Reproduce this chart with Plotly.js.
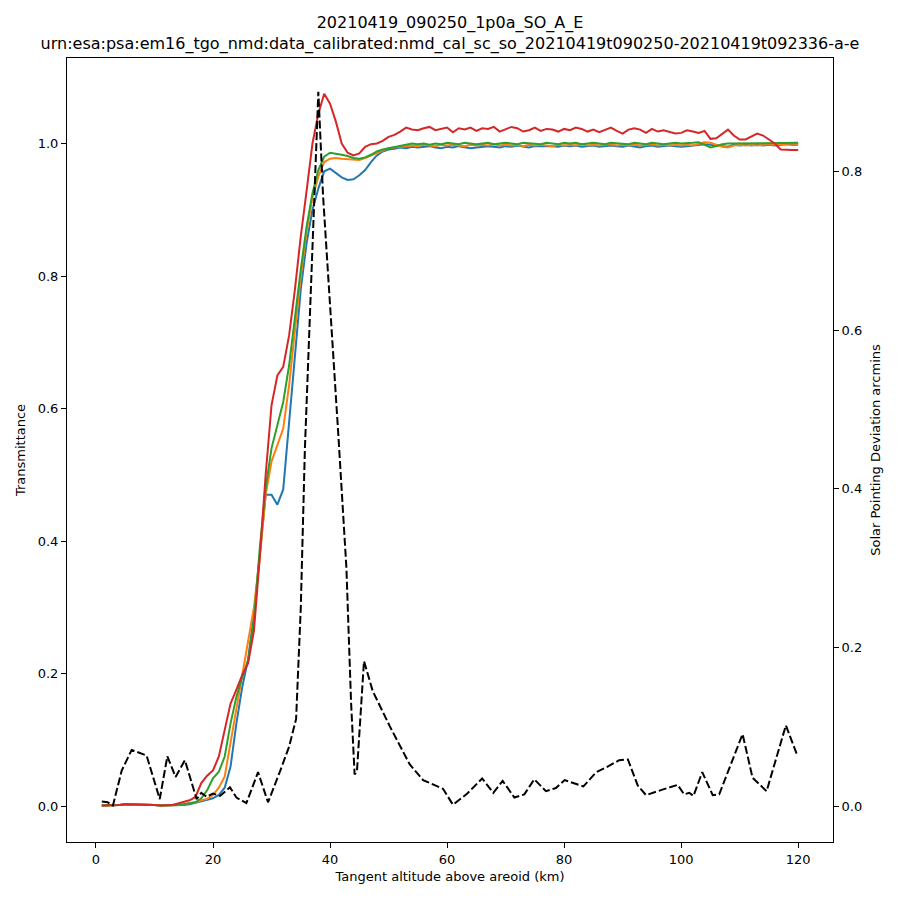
<!DOCTYPE html>
<html>
<head>
<meta charset="utf-8">
<script src="https://cdn.plot.ly/plotly-3.0.1.min.js"></script>
<style>
  body { margin: 0; background: #fff; }
  #chart { width: 900px; height: 900px; }
</style>
</head>
<body>
<div id="chart"></div>
<script>
// tangent altitudes (km), shared by the four transmittance curves
const altitudes = [];
for (let a = 1; a <= 120; a++) altitudes.push(a);

const transBlue = [
  0.001, 0.001, 0.002, 0.002, 0.003, 0.003, 0.003, 0.003, 0.002, 0.002,
  0.001, 0.001, 0.001, 0.002, 0.002, 0.003, 0.005, 0.007, 0.009, 0.012,
  0.017, 0.028, 0.06, 0.125, 0.18, 0.222, 0.29, 0.375, 0.47, 0.47,
  0.455, 0.478, 0.58, 0.69, 0.78, 0.85, 0.9, 0.932, 0.958, 0.962,
  0.955, 0.949, 0.945, 0.946, 0.952, 0.96, 0.972, 0.982, 0.988, 0.991,
  0.992, 0.994, 0.993, 0.995, 0.994, 0.995, 0.996, 0.994, 0.993, 0.995,
  0.994, 0.996, 0.995, 0.993, 0.994, 0.995, 0.996, 0.995, 0.994, 0.996,
  0.995, 0.997, 0.995, 0.994, 0.996, 0.996, 0.997, 0.996, 0.995, 0.997,
  0.996, 0.997, 0.995, 0.996, 0.997, 0.995, 0.996, 0.997, 0.996, 0.995,
  0.997, 0.996, 0.994, 0.996, 0.997, 0.995, 0.996, 0.997, 0.996, 0.995,
  0.996, 0.997, 0.998, 0.999, 0.998, 0.997, 0.996, 0.995, 0.998, 0.997,
  0.998, 0.997, 0.998, 0.997, 0.998, 0.997, 0.998, 0.999, 0.998, 0.998
];

const transOrange = [
  0.001, 0.001, 0.002, 0.002, 0.003, 0.003, 0.003, 0.003, 0.002, 0.002,
  0.001, 0.001, 0.001, 0.002, 0.003, 0.004, 0.006, 0.009, 0.011, 0.017,
  0.028, 0.045, 0.095, 0.15, 0.2, 0.248, 0.3, 0.376, 0.47, 0.52,
  0.545, 0.57, 0.635, 0.72, 0.8, 0.868, 0.918, 0.95, 0.972, 0.977,
  0.978, 0.977, 0.976, 0.975, 0.975, 0.978, 0.982, 0.986, 0.99, 0.993,
  0.994, 0.995, 0.996, 0.997, 0.996, 0.998, 0.997, 0.996, 0.998, 0.997,
  0.998, 0.997, 0.996, 0.998, 0.997, 0.998, 0.997, 0.999, 0.997, 0.998,
  0.997, 0.998, 0.996, 0.998, 0.997, 0.998, 0.997, 0.996, 0.998, 0.997,
  0.998, 0.997, 0.999, 0.997, 0.998, 0.997, 0.998, 0.999, 0.997, 0.998,
  0.997, 0.998, 0.997, 0.998, 0.999, 0.997, 0.998, 0.997, 0.998, 0.997,
  0.998, 0.997, 0.999, 1.002, 1.001, 0.998, 0.995, 0.994, 0.997, 0.998,
  0.997, 0.998, 0.997, 0.998, 0.999, 0.998, 0.999, 0.999, 1.0, 0.999
];

const transGreen = [
  0.001, 0.001, 0.002, 0.002, 0.003, 0.003, 0.003, 0.003, 0.002, 0.002,
  0.001, 0.001, 0.001, 0.002, 0.003, 0.004, 0.006, 0.012, 0.024, 0.042,
  0.052, 0.075, 0.125, 0.165, 0.195, 0.22, 0.28, 0.39, 0.48, 0.54,
  0.573, 0.61, 0.665, 0.74, 0.81, 0.875, 0.925, 0.96, 0.98, 0.986,
  0.985, 0.983, 0.981, 0.978, 0.977, 0.979, 0.983, 0.988, 0.991, 0.993,
  0.995, 0.997, 0.999, 1.0, 0.999, 1.0, 0.998, 1.0, 0.999, 1.001,
  1.0, 0.999, 1.001, 1.0, 0.999, 1.0, 1.001, 0.999, 1.0, 1.001,
  1.0, 0.999, 1.001, 1.0, 1.0, 0.999, 1.001, 1.0, 0.999, 1.001,
  1.0, 1.001, 0.999, 1.0, 1.001, 1.0, 0.999, 1.001, 1.0, 1.0,
  0.999, 1.001, 1.0, 0.999, 1.001, 1.0, 0.999, 1.0, 1.001, 1.0,
  1.0, 1.001, 1.002, 0.998, 0.994, 0.996, 0.999, 1.0, 1.0, 1.001,
  1.0, 1.001, 1.0, 1.0, 1.001, 1.0, 1.001, 1.0, 1.0, 1.001
];

const transRed = [
  0.001, 0.001, 0.002, 0.002, 0.003, 0.003, 0.003, 0.003, 0.002, 0.002,
  0.001, 0.001, 0.002, 0.004, 0.006, 0.009, 0.014, 0.035, 0.046, 0.054,
  0.075, 0.115, 0.155, 0.176, 0.198, 0.216, 0.265, 0.376, 0.5, 0.605,
  0.65, 0.663, 0.71, 0.78, 0.86, 0.929, 1.0, 1.045, 1.075, 1.06,
  1.033, 1.0, 0.986, 0.982, 0.985, 0.995, 0.999, 1.0, 1.004, 1.01,
  1.013, 1.018, 1.024, 1.021, 1.02, 1.023, 1.025, 1.02, 1.022, 1.024,
  1.017, 1.023, 1.021, 1.024, 1.019, 1.023, 1.022, 1.025, 1.018, 1.021,
  1.025, 1.023, 1.018, 1.02, 1.024, 1.019, 1.022, 1.021, 1.018, 1.022,
  1.02, 1.024, 1.022, 1.018, 1.021, 1.017, 1.02, 1.024, 1.019, 1.015,
  1.021, 1.023, 1.021, 1.016, 1.022, 1.018, 1.02, 1.017, 1.015, 1.016,
  1.02, 1.018, 1.016, 1.019, 1.007, 1.008, 1.015, 1.021, 1.012, 1.006,
  1.006, 1.01, 1.015, 1.012, 1.006, 1.0, 0.991, 0.99, 0.99, 0.99
];

// solar pointing deviation (arcmins), own altitude sampling
const pointingAlt = [
  1, 2, 2.9, 4.4, 6.1, 8.65, 10.9, 12.2, 13.6, 15.2,
  17.2, 18, 18.9, 20, 21.2, 22.9, 24, 25.7, 27.7, 29.4,
  31.5, 33, 34.2, 35, 35.7, 36.6, 37.2, 38, 38.8, 40,
  41.4, 42.8, 43.6, 44.2, 44.6, 45.8, 47.3, 50.2, 53.6, 55.9,
  59.3, 61, 63.3, 66, 67.9, 69.5, 71.5, 73.2, 74.9, 76.9,
  78.6, 80.1, 83.3, 85.5, 87.2, 89.4, 90.9, 92.6, 94, 96.8,
  99.4, 100.5, 101.4, 102.1, 103.6, 105.4, 106.5, 110.5, 112.2, 114.6,
  117.9, 119.9
];
const pointingDev = [
  0.006, 0.005, 0.001, 0.045, 0.071, 0.064, 0.009, 0.063, 0.037, 0.058,
  0.009, 0.017, 0.012, 0.016, 0.013, 0.024, 0.011, 0.004, 0.043, 0.005,
  0.045, 0.075, 0.11, 0.25, 0.45, 0.62, 0.74, 0.9, 0.77, 0.635,
  0.47, 0.3, 0.13, 0.04, 0.044, 0.183, 0.145, 0.101, 0.053, 0.033,
  0.022, 0.002, 0.015, 0.035, 0.017, 0.032, 0.011, 0.015, 0.034, 0.019,
  0.023, 0.033, 0.025, 0.043, 0.049, 0.058, 0.059, 0.026, 0.014, 0.021,
  0.027, 0.015, 0.017, 0.013, 0.043, 0.014, 0.015, 0.091, 0.036, 0.019,
  0.102, 0.063
];

const titleLines = [
  "20210419_090250_1p0a_SO_A_E",
  "urn:esa:psa:em16_tgo_nmd:data_calibrated:nmd_cal_sc_so_20210419t090250-20210419t092336-a-e"
];

const font = "DejaVu Sans, Liberation Sans, sans-serif";

function transTrace(values, color) {
  return {
    x: altitudes,
    y: values,
    type: "scatter",
    mode: "lines",
    line: { color: color, width: 2 },
    hoverinfo: "x+y"
  };
}

let data = [
  transTrace(transBlue, "#1f77b4"),
  transTrace(transOrange, "#ff7f0e"),
  transTrace(transGreen, "#2ca02c"),
  transTrace(transRed, "#d62728"),
  {
    x: pointingAlt,
    y: pointingDev,
    yaxis: "y2",
    type: "scatter",
    mode: "lines",
    line: { color: "#000000", width: 2, dash: "8px,3px" }
  }
];

let axisCommon = {
  showgrid: false,
  zeroline: false,
  showline: true,
  linecolor: "#000",
  linewidth: 1,
  ticks: "outside",
  ticklen: 5,
  tickwidth: 1,
  tickcolor: "#000",
  tickfont: { family: font, size: 13, color: "#000" }
};

let layout = {
  width: 900,
  height: 900,
  margin: { l: 67, r: 67, t: 58, b: 58 },
  paper_bgcolor: "#fff",
  plot_bgcolor: "#fff",
  showlegend: false,
  font: { family: font, color: "#000" },
  title: {
    text: titleLines.join("<br>"),
    x: 0.5,
    xanchor: "center",
    y: 0.969,
    yref: "container",
    yanchor: "top",
    font: { family: font, size: 16, color: "#000" }
  },
  xaxis: Object.assign({}, axisCommon, {
    range: [-4.95, 125.95],
    tickvals: [0, 20, 40, 60, 80, 100, 120],
    mirror: true,
    title: { text: "Tangent altitude above areoid (km)", font: { family: font, size: 13 }, standoff: 6 }
  }),
  yaxis: Object.assign({}, axisCommon, {
    range: [-0.054, 1.129],
    tickvals: [0, 0.2, 0.4, 0.6, 0.8, 1.0],
    tickformat: ".1f",
    title: { text: "Transmittance", font: { family: font, size: 13 }, standoff: 9 }
  }),
  yaxis2: Object.assign({}, axisCommon, {
    range: [-0.045, 0.9427],
    tickvals: [0, 0.2, 0.4, 0.6, 0.8],
    tickformat: ".1f",
    overlaying: "y",
    side: "right",
    title: { text: "Solar Pointing Deviation arcmins", font: { family: font, size: 13 }, standoff: 9 }
  })
};

Plotly.newPlot("chart", data, layout, { displayModeBar: false, staticPlot: true });
</script>
</body>
</html>
